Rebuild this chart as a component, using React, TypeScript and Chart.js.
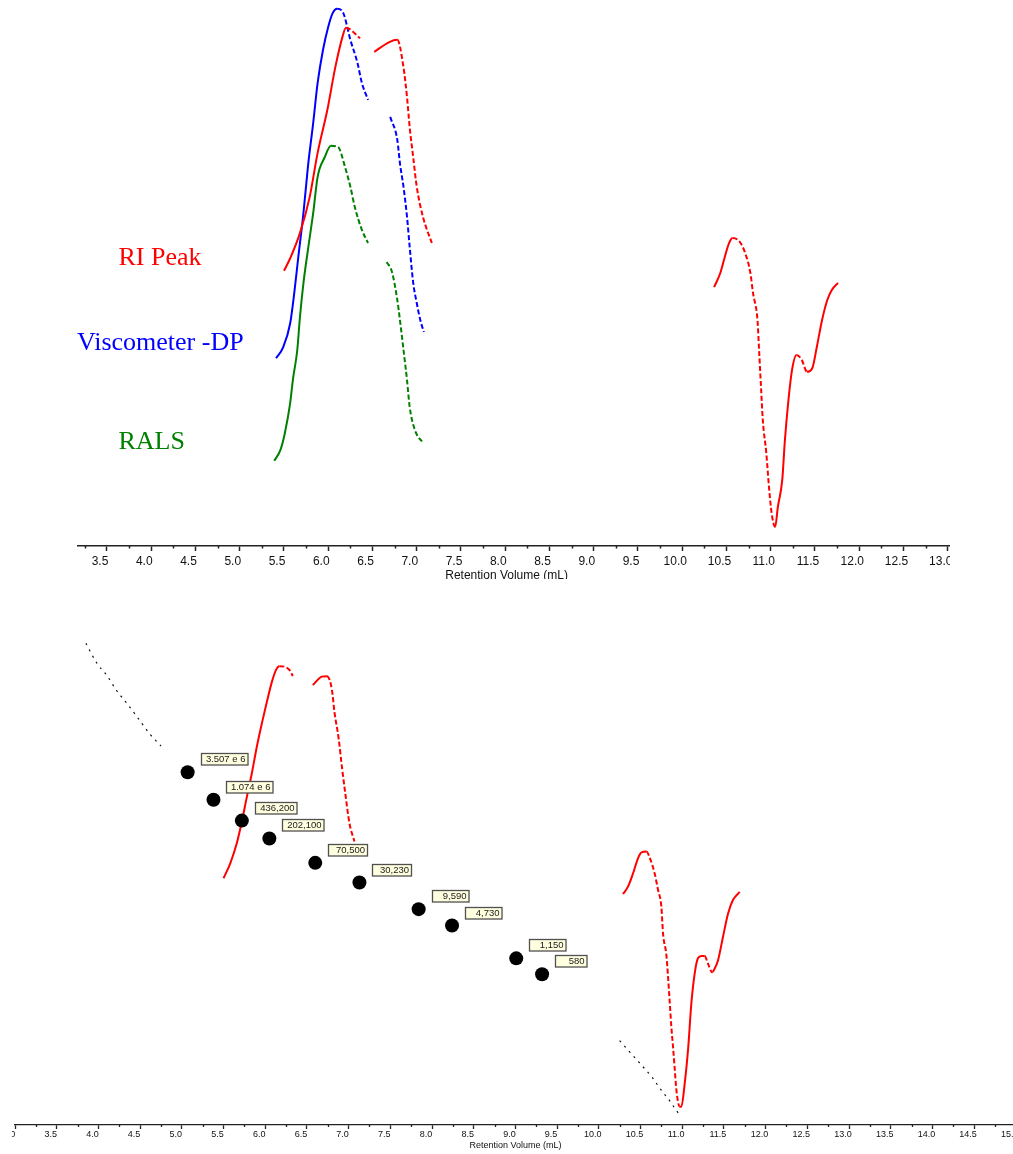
import React, { useEffect, useRef } from 'react';
import { Chart, registerables } from 'chart.js';

Chart.register(...registerables);

const FONT = '"Liberation Sans", Arial, Helvetica, sans-serif';

// ---------- Top panel: chromatogram (retention volume, mL vs detector response, arbitrary units)
const riTopVol = [5.50, 5.57, 5.68, 5.79, 5.88, 5.99, 6.08, 6.16, 6.20, 6.36, 6.44, 6.52, 6.69, 6.78, 6.85, 6.89, 6.92, 6.96, 7.00, 7.07, 7.17, 8.80, 10.36, 10.43, 10.48, 10.53, 10.57, 10.65, 10.71, 10.77, 10.80, 10.85, 10.87, 10.89, 10.91, 10.95, 10.98, 11.01, 11.05, 11.08, 11.13, 11.16, 11.20, 11.24, 11.29, 11.35, 11.41, 11.47, 11.52, 11.58, 11.64, 11.69, 11.76];
const riTopResp = [50.4, 52.7, 57.3, 63.9, 72.0, 79.9, 87.7, 93.2, 94.9, 93.0, null, 90.5, 92.3, 92.7, 87.7, 82.2, 76.7, 71.2, 65.8, 60.3, 55.5, null, 47.4, 50.0, 52.9, 55.5, 56.4, 55.7, 53.7, 50.0, 46.3, 41.4, 35.3, 29.1, 23.1, 17.0, 10.8, 6.0, 3.5, 7.1, 12.1, 19.4, 26.7, 32.2, 35.0, 34.1, 31.9, 32.6, 36.4, 41.4, 45.1, 46.9, 48.2];

const viscVol = [5.41, 5.49, 5.57, 5.62, 5.66, 5.72, 5.77, 5.83, 5.88, 5.94, 6.00, 6.05, 6.10, 6.17, 6.25, 6.33, 6.38, 6.45, 6.57, 6.70, 6.78, 6.81, 6.85, 6.89, 6.92, 6.96, 7.00, 7.04, 7.08];
const viscResp = [34.4, 36.4, 40.8, 46.9, 52.7, 61.0, 69.4, 77.5, 84.8, 90.8, 95.1, 97.6, 98.4, 97.6, 92.7, 88.5, 84.8, 81.7, null, 78.6, 74.4, 70.1, 65.8, 60.3, 54.8, 48.2, 44.5, 41.4, 39.2];

const ralsVol = [5.39, 5.46, 5.51, 5.57, 5.60, 5.65, 5.68, 5.72, 5.77, 5.83, 5.88, 5.96, 6.03, 6.11, 6.19, 6.25, 6.30, 6.38, 6.45, 6.56, 6.66, 6.72, 6.78, 6.81, 6.86, 6.89, 6.92, 6.98, 7.07];
const ralsResp = [15.6, 17.6, 20.7, 26.2, 30.4, 35.9, 41.9, 48.2, 54.2, 61.0, 67.6, 71.2, 73.3, 73.1, 69.4, 65.8, 62.1, 57.9, 55.5, null, 52.0, 50.2, 45.1, 41.4, 34.6, 30.4, 25.5, 21.2, 18.9];

const topTicks = [3.0, 3.5, 4.0, 4.5, 5.0, 5.5, 6.0, 6.5, 7.0, 7.5, 8.0, 8.5, 9.0, 9.5, 10.0, 10.5, 11.0, 11.5, 12.0, 12.5, 13.0];

// ---------- Bottom panel: calibration overlay
const riBotVol = [5.50, 5.58, 5.66, 5.72, 5.78, 5.84, 5.90, 5.96, 6.02, 6.08, 6.13, 6.17, 6.30, 6.33, 6.45, 6.57, 6.68, 6.74, 6.80, 6.83, 6.88, 6.92, 6.96, 7.01, 7.07, 8.70, 10.29, 10.35, 10.41, 10.47, 10.51, 10.57, 10.62, 10.67, 10.71, 10.75, 10.77, 10.81, 10.83, 10.85, 10.87, 10.89, 10.91, 10.93, 10.97, 10.99, 11.03, 11.07, 11.11, 11.15, 11.19, 11.23, 11.27, 11.31, 11.36, 11.38, 11.43, 11.49, 11.55, 11.61, 11.69];
const riBotResp = [47.0, 49.8, 53.7, 57.8, 62.5, 67.0, 72.1, 76.5, 80.6, 84.4, 86.7, 87.4, 86.5, 85.5, null, 83.8, 85.4, 85.5, 82.9, 78.7, 73.7, 68.2, 63.2, 57.5, 54.0, null, 44.0, 45.4, 47.9, 50.8, 51.9, 52.1, 50.5, 47.9, 44.8, 41.6, 36.5, 32.4, 28.3, 23.5, 18.7, 14.9, 10.8, 6.7, 3.5, 3.5, 7.9, 14.3, 23.2, 28.9, 31.8, 32.2, 32.2, 30.7, 29.1, 29.5, 31.4, 35.9, 40.3, 42.9, 44.4];

const calVol = [3.85, 3.98, 4.10, 4.22, 4.34, 4.46, 4.62, 4.75, 7.50, 10.25, 10.45, 10.57, 10.65, 10.72, 10.78, 10.84, 10.90, 10.97];
const calMw = [9.1e8, 3.9e8, 2.3e8, 1.18e8, 6.9e7, 3.9e7, 1.8e7, 1.09e7, null, 33, 14.8, 9.1, 6.5, 4.5, 3.4, 2.6, 1.9, 1.34];

const stdVol = [5.07, 5.38, 5.72, 6.05, 6.60, 7.13, 7.84, 8.24, 9.01, 9.32];
const stdMw = [3507000, 1074000, 436200, 202100, 70500, 30230, 9590, 4730, 1150, 580];
const stdLabels = ['3.507 e 6', '1.074 e 6', '436,200', '202,100', '70,500', '30,230', '9,590', '4,730', '1,150', '580'];

const bottomTicks = [3.0, 3.5, 4.0, 4.5, 5.0, 5.5, 6.0, 6.5, 7.0, 7.5, 8.0, 8.5, 9.0, 9.5, 10.0, 10.5, 11.0, 11.5, 12.0, 12.5, 13.0, 13.5, 14.0, 14.5, 15.0];

const pts = (xs: number[], ys: (number | null)[]) => xs.map((x, i) => ({ x, y: ys[i] }));

const fallingDash = (dash: number[]) => (ctx: any) =>
  ctx.p1.parsed.y < ctx.p0.parsed.y ? dash : undefined;

const minorTicksPlugin = (len: number, width: number) => ({
  id: 'minorTicks',
  afterDraw(chart: any) {
    const s = chart.scales.x;
    const majors: number[] = s.ticks.map((t: any) => t.value);
    const ctx = chart.ctx;
    ctx.save();
    ctx.strokeStyle = '#222';
    ctx.lineWidth = width;
    ctx.beginPath();
    for (let i = 0; i < majors.length - 1; i++) {
      const v = (majors[i] + majors[i + 1]) / 2;
      if (v < s.min || v > s.max) continue;
      const px = Math.round(s.getPixelForValue(v)) + 0.5;
      ctx.moveTo(px, s.top);
      ctx.lineTo(px, s.top + len);
    }
    ctx.stroke();
    ctx.restore();
  },
});

const stdLabelPlugin = {
  id: 'stdLabels',
  afterDatasetsDraw(chart: any) {
    const meta = chart.getDatasetMeta(0);
    const ctx = chart.ctx;
    ctx.save();
    ctx.font = `9.5px ${FONT}`;
    ctx.textAlign = 'right';
    ctx.textBaseline = 'middle';
    meta.data.forEach((el: any, i: number) => {
      const text = stdLabels[i];
      const w = 24 + 2.5 * text.length;
      const h = 11.5;
      const bx = Math.round(el.x + 13) + 0.5;
      const by = Math.round(el.y - 19) + 0.5;
      ctx.fillStyle = '#FFFFE0';
      ctx.fillRect(bx, by, w, h);
      ctx.strokeStyle = '#505050';
      ctx.lineWidth = 1.3;
      ctx.strokeRect(bx, by, w, h);
      ctx.fillStyle = '#1a1a1a';
      ctx.fillText(text, bx + w - 2.5, by + h / 2 + 0.5);
    });
    ctx.restore();
  },
};

const lineDs = (label: string, data: any[], color: string, extra: any = {}) => ({
  label,
  data,
  borderColor: color,
  backgroundColor: color,
  borderWidth: 2,
  pointRadius: 0,
  fill: false,
  spanGaps: false,
  cubicInterpolationMode: 'monotone',
  borderCapStyle: 'butt',
  segment: { borderDash: fallingDash([5, 2.5]) },
  ...extra,
});

const labelStyle = (color: string, left: number, top: number): React.CSSProperties => ({
  position: 'absolute',
  left,
  top,
  color,
  fontFamily: '"Liberation Serif", "Times New Roman", serif',
  fontSize: 26,
  lineHeight: '26px',
  whiteSpace: 'nowrap',
});

export default function App() {
  const topRef = useRef<HTMLCanvasElement>(null);
  const botRef = useRef<HTMLCanvasElement>(null);

  useEffect(() => {
    const top = new Chart(topRef.current as HTMLCanvasElement, {
      type: 'line',
      data: {
        datasets: [
          lineDs('RI Peak', pts(riTopVol, riTopResp), '#ff0000'),
          lineDs('Viscometer -DP', pts(viscVol, viscResp), '#0000ff'),
          lineDs('RALS', pts(ralsVol, ralsResp), '#008000'),
        ] as any,
      },
      options: {
        responsive: false,
        maintainAspectRatio: false,
        animation: false,
        events: [],
        layout: { autoPadding: false, padding: { left: 62.75, right: 62.6, top: 0, bottom: 0.6 } },
        plugins: { legend: { display: false }, tooltip: { enabled: false } },
        scales: {
          x: {
            type: 'linear',
            min: 3.0,
            max: 13.03,
            afterBuildTicks: (scale: any) => {
              scale.ticks = topTicks.map((value) => ({ value }));
            },
            grid: { display: true, drawOnChartArea: false, drawTicks: true, tickLength: 5, tickWidth: 1.5, tickColor: '#222' },
            border: { display: true, color: '#222', width: 1.5 },
            ticks: {
              autoSkip: false,
              maxRotation: 0,
              padding: 3,
              labelOffset: -7,
              color: '#111',
              font: { family: FONT, size: 12 },
              callback: (v: any) => Number(v).toFixed(1),
            },
            title: {
              display: true,
              text: 'Retention Volume (mL)',
              color: '#111',
              font: { family: FONT, size: 12, lineHeight: 1 },
              padding: { top: -2, bottom: 0 },
            },
          },
          y: { type: 'linear', display: false, min: 0, max: 100 },
        },
      } as any,
      plugins: [minorTicksPlugin(2.5, 1.5)],
    });

    const bot = new Chart(botRef.current as HTMLCanvasElement, {
      type: 'line',
      data: {
        datasets: [
          {
            label: 'Standards',
            data: pts(stdVol, stdMw),
            yAxisID: 'yM',
            showLine: false,
            pointRadius: 7,
            pointBackgroundColor: '#000',
            pointBorderWidth: 0,
            borderColor: '#000',
            clip: false,
          },
          {
            label: 'Calibration',
            data: pts(calVol, calMw),
            yAxisID: 'yM',
            borderColor: '#111',
            borderWidth: 1.2,
            borderDash: [2, 5],
            pointRadius: 0,
            spanGaps: false,
            cubicInterpolationMode: 'monotone',
          },
          lineDs('RI', pts(riBotVol, riBotResp), '#ff0000', { yAxisID: 'y' }),
        ] as any,
      },
      options: {
        responsive: false,
        maintainAspectRatio: false,
        animation: false,
        events: [],
        layout: { autoPadding: false, padding: { left: 15, right: 44.2, top: 0, bottom: 0.4 } },
        plugins: { legend: { display: false }, tooltip: { enabled: false } },
        scales: {
          x: {
            type: 'linear',
            min: 3.0,
            max: 15.0,
            afterBuildTicks: (scale: any) => {
              scale.ticks = bottomTicks.map((value) => ({ value }));
            },
            grid: { display: true, drawOnChartArea: false, drawTicks: true, tickLength: 4, tickWidth: 1.3, tickColor: '#222' },
            border: { display: true, color: '#222', width: 1.3 },
            ticks: {
              autoSkip: false,
              maxRotation: 0,
              padding: 0,
              labelOffset: -6,
              color: '#111',
              font: { family: FONT, size: 9 },
              callback: (v: any) => Number(v).toFixed(1),
            },
            title: {
              display: true,
              text: 'Retention Volume (mL)',
              color: '#111',
              font: { family: FONT, size: 9, lineHeight: 1.2 },
              padding: { top: 0, bottom: 0 },
            },
          },
          y: { type: 'linear', display: false, min: 0, max: 100 },
          yM: { type: 'logarithmic', display: false, min: 0.87, max: 5.9e9 },
        },
      } as any,
      plugins: [minorTicksPlugin(2, 1.3), stdLabelPlugin],
    });

    return () => {
      top.destroy();
      bot.destroy();
    };
  }, []);

  return (
    <div style={{ position: 'fixed', left: 0, top: 0, width: 1013, height: 1154, background: '#fff', overflow: 'hidden' }}>
      <div style={{ position: 'absolute', left: 77, top: 0, width: 873, height: 579, overflow: 'hidden' }}>
        <canvas
          ref={topRef}
          width={1013}
          height={582}
          style={{ position: 'absolute', left: -77, top: 0, width: 1013, height: 582 }}
        />
      </div>
      <div style={{ position: 'absolute', left: 12, top: 600, width: 1001, height: 554, overflow: 'hidden' }}>
        <canvas
          ref={botRef}
          width={1060}
          height={551}
          style={{ position: 'absolute', left: -12, top: 0, width: 1060, height: 551 }}
        />
      </div>
      <div style={labelStyle('#ff0000', 118.5, 244.2)}>RI Peak</div>
      <div style={labelStyle('#0000ff', 77, 328.9)}>Viscometer -DP</div>
      <div style={labelStyle('#008000', 118.5, 428.2)}>RALS</div>
    </div>
  );
}
